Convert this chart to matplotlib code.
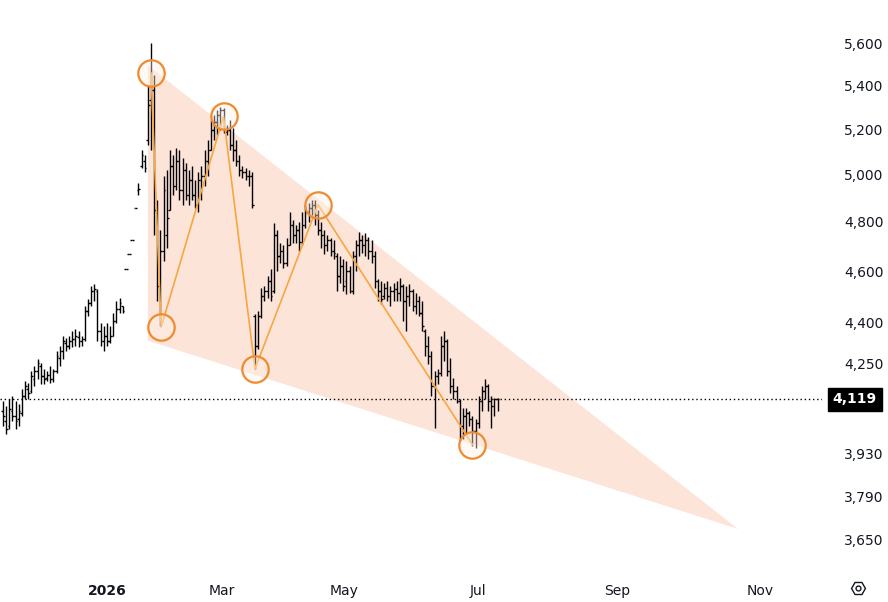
import matplotlib
matplotlib.use('Agg')
import matplotlib.pyplot as plt
from matplotlib.ticker import FixedLocator, FuncFormatter, NullLocator
import numpy as np

# daily OHLC bars (one entry per trading day)
opens = [4078, 4043, 4026, 4078, 4060, 4050, 4071, 4132, 4157, 4150,
         4192, 4222, 4240, 4204, 4196, 4207, 4192, 4222, 4269, 4295,
         4325, 4314, 4333, 4340, 4348, 4333, 4340, 4446, 4477, 4524,
         4524, 4370, 4333, 4351, 4333, 4351, 4408, 4454, 4466, 4611,
         4671, 4724, 4860, 4932, 5039, 5061, 5150, 5331, 5377, 4827,
         4544, 4683, 4745, 4848, 5039, 4953, 5061, 4932, 5018, 4911,
         4975, 4911, 4869, 4975, 4996, 5061, 5106, 5194, 5230, 5262,
         5285, 5185, 5194, 5128, 5106, 5061, 5018, 5009, 4996, 4996,
         4427, 4314, 4427, 4505, 4524, 4563, 4524, 4745, 4663, 4683,
         4635, 4704, 4786, 4745, 4765, 4716, 4786, 4840, 4856, 4869,
         4827, 4765, 4745, 4704, 4724, 4683, 4663, 4583, 4623, 4563,
         4603, 4524, 4663, 4704, 4724, 4704, 4724, 4683, 4663, 4563,
         4524, 4505, 4536, 4505, 4524, 4532, 4516, 4544, 4485, 4505,
         4524, 4466, 4485, 4438, 4370, 4314, 4277, 4168, 4204, 4215,
         4314, 4333, 4222, 4168, 4150, 4114, 4026, 4060, 4071, 4050,
         4009, 4036, 4114, 4150, 4168, 4114, 4096, 4121]
highs = [4114, 4096, 4121, 4132, 4114, 4103, 4157, 4185, 4178, 4222,
         4240, 4266, 4251, 4229, 4222, 4240, 4229, 4295, 4314, 4351,
         4344, 4351, 4370, 4378, 4370, 4351, 4466, 4493, 4544, 4551,
         4532, 4400, 4389, 4400, 4389, 4438, 4485, 4497, 4466, 4611,
         4671, 4724, 4860, 4962, 5106, 5083, 5400, 5600, 5447, 4890,
         4765, 4996, 5018, 5106, 5083, 5115, 5106, 5070, 5052, 5018,
         5039, 4975, 5009, 5039, 5106, 5150, 5239, 5262, 5285, 5299,
         5294, 5217, 5239, 5203, 5150, 5083, 5039, 5027, 5018, 5009,
         4435, 4446, 4536, 4544, 4583, 4611, 4794, 4765, 4712, 4704,
         4732, 4840, 4806, 4786, 4798, 4840, 4869, 4877, 4890, 4890,
         4848, 4798, 4765, 4745, 4732, 4724, 4675, 4663, 4651, 4643,
         4623, 4683, 4724, 4757, 4745, 4753, 4740, 4724, 4683, 4571,
         4563, 4555, 4563, 4544, 4555, 4563, 4575, 4551, 4544, 4551,
         4532, 4516, 4505, 4485, 4378, 4351, 4295, 4222, 4229, 4351,
         4370, 4340, 4269, 4196, 4168, 4121, 4089, 4089, 4078, 4060,
         4050, 4132, 4168, 4192, 4174, 4132, 4125, 4125]
lows = [4026, 3999, 4016, 4043, 4016, 4026, 4060, 4121, 4121, 4143,
        4168, 4192, 4174, 4174, 4185, 4178, 4181, 4215, 4240, 4266,
        4295, 4303, 4310, 4314, 4310, 4314, 4333, 4427, 4466, 4485,
        4333, 4314, 4295, 4314, 4325, 4351, 4400, 4438, 4438, 4611,
        4671, 4724, 4860, 4911, 5027, 5009, 5128, 5106, 4745, 4485,
        4389, 4643, 4695, 4848, 4911, 4932, 4890, 4869, 4890, 4869,
        4890, 4860, 4840, 4890, 4953, 4996, 5106, 5150, 5172, 5194,
        5181, 5172, 5106, 5061, 5039, 4996, 4984, 4975, 4953, 4860,
        4229, 4303, 4419, 4485, 4497, 4485, 4516, 4603, 4635, 4615,
        4623, 4704, 4712, 4712, 4683, 4704, 4773, 4798, 4827, 4786,
        4745, 4695, 4671, 4683, 4663, 4651, 4524, 4555, 4524, 4512,
        4516, 4512, 4603, 4663, 4675, 4663, 4651, 4635, 4536, 4485,
        4473, 4493, 4485, 4466, 4485, 4485, 4485, 4408, 4370, 4466,
        4446, 4435, 4427, 4370, 4277, 4247, 4132, 4019, 4174, 4204,
        4258, 4204, 4143, 4121, 4107, 3974, 3981, 4002, 4026, 3957,
        3950, 4019, 4078, 4121, 4078, 4019, 4060, 4078]
closes = [4060, 4016, 4085, 4060, 4043, 4078, 4132, 4168, 4143, 4204,
          4222, 4251, 4204, 4192, 4207, 4192, 4222, 4277, 4295, 4333,
          4314, 4333, 4340, 4351, 4333, 4340, 4446, 4477, 4524, 4532,
          4370, 4333, 4351, 4333, 4351, 4408, 4454, 4477, 4446, 4611,
          4671, 4724, 4860, 4940, 5083, 5027, 5308, 5377, 4848, 4544,
          4683, 4932, 4815, 5039, 4953, 5061, 4932, 5018, 4911, 4975,
          4911, 4869, 4975, 4996, 5061, 5106, 5194, 5230, 5262, 5285,
          5185, 5194, 5128, 5106, 5061, 5018, 5009, 4996, 4996, 4869,
          4314, 4427, 4505, 4524, 4563, 4505, 4745, 4663, 4683, 4635,
          4704, 4786, 4745, 4765, 4716, 4786, 4840, 4856, 4869, 4827,
          4765, 4745, 4704, 4724, 4683, 4675, 4583, 4623, 4544, 4603,
          4524, 4663, 4704, 4724, 4704, 4724, 4683, 4663, 4563, 4524,
          4493, 4536, 4505, 4524, 4532, 4516, 4544, 4485, 4505, 4524,
          4466, 4485, 4438, 4389, 4314, 4277, 4168, 4204, 4215, 4314,
          4333, 4222, 4168, 4150, 4114, 4026, 4060, 4071, 4050, 4009,
          4036, 4114, 4150, 4168, 4114, 4096, 4121, 4119]

last_price = 4119

# falling wedge drawing (bar index, price)
wedge_x = [46, 46, 233.3]
wedge_y = [5494, 4333, 3684]

# zigzag pivots with circles (bar index, price)
pivot_x = [47, 50.2, 70, 80, 100, 149]
pivot_y = [5457, 4384, 5257, 4229, 4872, 3962]

price_ticks = [5600, 5400, 5200, 5000, 4800, 4600, 4400, 4250, 3930, 3790, 3650]
month_labels = ['2026', 'Mar', 'May', 'Jul', 'Sep', 'Nov']
month_pos = [33, 69.5, 108.3, 150.8, 194.9, 240.3]

txt = '#131722'
plt.rcParams['font.family'] = ['DejaVu Sans']

fig = plt.figure(figsize=(8.88, 6.02), dpi=100)
ax = fig.add_axes([0, 0.05, 0.9257, 0.95])

x = np.arange(len(closes))

# wedge fill
ax.fill(wedge_x, wedge_y, color='#fde4d8', lw=0, zorder=1)

# OHLC bars
ax.vlines(x, lows, highs, color='black', lw=1.0, zorder=3)
ax.hlines(opens, x - 0.55, x, color='black', lw=1.0, zorder=3)
ax.hlines(closes, x, x + 0.55, color='black', lw=1.0, zorder=3)

# zigzag + circles
ax.plot(pivot_x, pivot_y, color='#f7a640', lw=1.2, zorder=4)
ax.plot(pivot_x, pivot_y, ls='none', marker='o', ms=19, mew=1.6,
        mec='#ef8a2e', mfc=(1, 0.95, 0.9, 0.4), zorder=5)

# last price line and label
ax.axhline(last_price, color='black', lw=1, ls=(0, (1, 2)), zorder=2)
ax.annotate(f'{last_price:,}', xy=(1.04, last_price),
            xycoords=('axes fraction', 'data'), ha='center', va='center',
            color='white', fontsize=10, fontweight='bold',
            bbox=dict(boxstyle='square,pad=0.35', fc='black', ec='black'),
            annotation_clip=False, zorder=6)

ax.set_yscale('log')
ax.set_ylim(3550, 5812)
ax.set_xlim(-0.95, 260)
ax.yaxis.tick_right()
ax.yaxis.set_major_locator(FixedLocator(price_ticks))
ax.yaxis.set_major_formatter(FuncFormatter(lambda v, p: f'{int(round(v)):,}'))
ax.yaxis.set_minor_locator(NullLocator())
ax.set_xticks(month_pos)
ax.set_xticklabels(month_labels)
ax.get_xticklabels()[0].set_fontweight('bold')
ax.tick_params(axis='y', length=0, pad=16, labelsize=10, labelcolor=txt)
ax.tick_params(axis='x', length=0, pad=9, labelsize=10, labelcolor=txt)
for s in ax.spines.values():
    s.set_visible(False)

# settings gear in the corner
fig.add_artist(plt.Line2D([858 / 888], [1 - 588 / 602], marker='H', ms=10,
                          mfc='none', mec=txt, mew=1, transform=fig.transFigure))
fig.add_artist(plt.Line2D([858 / 888], [1 - 588 / 602], marker='o', ms=3.5,
                          mfc='none', mec=txt, mew=1, transform=fig.transFigure))

fig.savefig('out.png', dpi=100)
